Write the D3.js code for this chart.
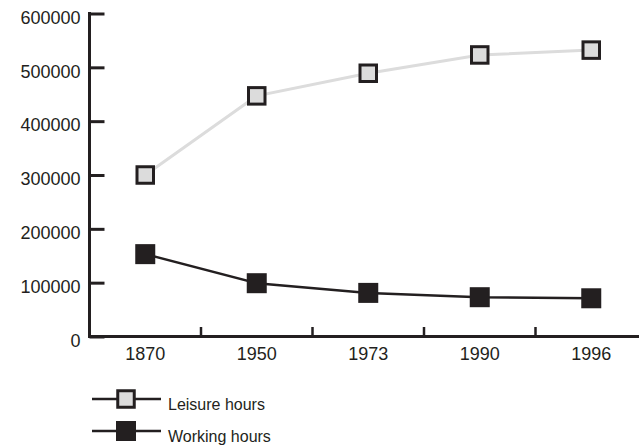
<!DOCTYPE html>
<html><head><meta charset="utf-8">
<script src="https://cdn.jsdelivr.net/npm/d3@7"></script>
<style>
html,body{margin:0;padding:0;background:#fff;}
svg{display:block;font-family:"Liberation Sans",Arial,sans-serif;}
</style></head>
<body>
<svg id="chart" width="639" height="446"></svg>
<script>
const years = ["1870", "1950", "1973", "1990", "1996"];
const leisureHours = [300000, 447000, 489000, 523000, 532000];
const workingHours = [153000, 99000, 81000, 73000, 71000];
const yTicks = [0, 100000, 200000, 300000, 400000, 500000, 600000];
const seriesNames = ["Leisure hours", "Working hours"];

const dark = "#231f20";
const light = "#dcdcdc";
const svg = d3.select("#chart");

const x = d3.scaleBand().domain(years).range([89.5, 647]);
const y = d3.scaleLinear().domain([0, 600000]).range([336.5, 13.5]);
const cx = d => x(d) + x.bandwidth() / 2;

// Y axis
const yAxis = svg.append("g").attr("transform", "translate(89.5,0)")
  .call(d3.axisLeft(y).tickValues(yTicks).tickFormat(d3.format("d")).tickSize(-15).tickPadding(9));
yAxis.select(".domain").remove();
yAxis.selectAll(".tick line").attr("stroke", dark).attr("stroke-width", 3);
yAxis.selectAll(".tick text").attr("fill", dark).attr("dy", "0.54em")
  .style("font-size", "18px").attr("font-family", "Liberation Sans, Arial, sans-serif");
svg.append("line").attr("x1", 89.5).attr("x2", 89.5).attr("y1", y(600000) - 1.5).attr("y2", y(0) + 1.5)
  .attr("stroke", dark).attr("stroke-width", 3);

// X axis
const xAxis = svg.append("g").attr("transform", "translate(0,336.5)")
  .call(d3.axisBottom(x).tickSize(0).tickPadding(11));
xAxis.select(".domain").remove();
xAxis.selectAll(".tick text").attr("fill", dark)
  .style("font-size", "18px").attr("font-family", "Liberation Sans, Arial, sans-serif");
svg.append("line").attr("x1", 88).attr("x2", 639).attr("y1", 336.5).attr("y2", 336.5)
  .attr("stroke", dark).attr("stroke-width", 3);
svg.append("g").selectAll("line").data(years.slice(1)).join("line")
  .attr("x1", d => x(d)).attr("x2", d => x(d)).attr("y1", 336.5).attr("y2", 327)
  .attr("stroke", dark).attr("stroke-width", 2.5);

// Lines
const line = d3.line().x(d => cx(d[0])).y(d => y(d[1]));
const leisurePts = years.map((d, i) => [d, leisureHours[i]]);
const workingPts = years.map((d, i) => [d, workingHours[i]]);

svg.append("path").datum(leisurePts).attr("d", line).attr("fill", "none")
  .attr("stroke", light).attr("stroke-width", 3);
svg.append("path").datum(workingPts).attr("d", line).attr("fill", "none")
  .attr("stroke", dark).attr("stroke-width", 2.5);

const ls = 19.5, ws = 20;
svg.append("g").selectAll("rect").data(leisurePts).join("rect")
  .attr("x", d => cx(d[0]) - ls / 2 + 1.5).attr("y", d => y(d[1]) - ls / 2 + 1.5)
  .attr("width", ls - 3).attr("height", ls - 3)
  .attr("fill", light).attr("stroke", dark).attr("stroke-width", 3);
svg.append("g").selectAll("rect").data(workingPts).join("rect")
  .attr("x", d => cx(d[0]) - ws / 2).attr("y", d => y(d[1]) - ws / 2)
  .attr("width", ws).attr("height", ws)
  .attr("fill", dark);

// Legend
const legend = svg.append("g");
const legY = [399, 431];
seriesNames.forEach((name, i) => {
  const g = legend.append("g").attr("transform", `translate(0,${legY[i]})`);
  g.append("line").attr("x1", 92).attr("x2", 161).attr("y1", 0).attr("y2", 0)
    .attr("stroke", dark).attr("stroke-width", 2.5);
  if (i === 0) {
    g.append("rect").attr("x", 126 - ls / 2 + 1.5).attr("y", -ls / 2 + 1.5)
      .attr("width", ls - 3).attr("height", ls - 3)
      .attr("fill", light).attr("stroke", dark).attr("stroke-width", 3);
  } else {
    g.append("rect").attr("x", 126 - ws / 2).attr("y", -ws / 2)
      .attr("width", ws).attr("height", ws).attr("fill", dark);
  }
  g.append("text").attr("x", 168).attr("y", 10.5).attr("fill", dark)
    .style("font-size", "16px").text(name);
});
</script>
</body></html>
